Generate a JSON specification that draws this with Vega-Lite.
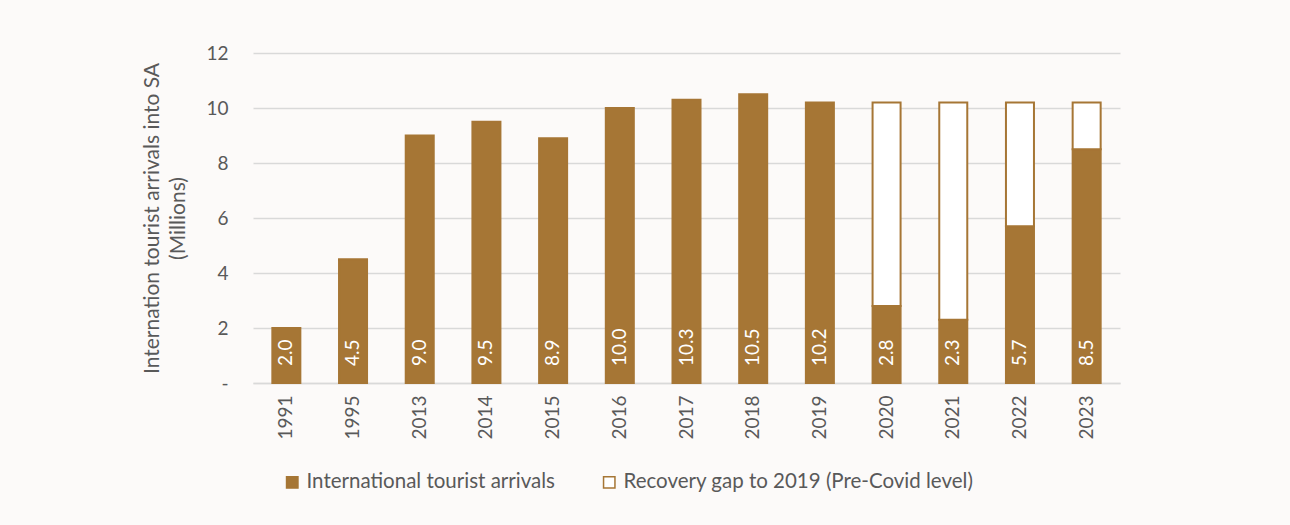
{
  "$schema": "https://vega.github.io/schema/vega-lite/v6.json",
  "width": 867,
  "height": 330,
  "autosize": {"type": "none"},
  "padding": {"left": 253, "top": 53, "right": 170, "bottom": 142},
  "background": "#FCFAF9",
  "config": {
    "font": "Lato",
    "view": {"stroke": null},
    "axis": {"labelFont": "Lato", "titleFont": "Lato", "labelColor": "#595959", "titleColor": "#595959", "labelFontSize": 19, "titleFontSize": 21, "titleFontWeight": "normal"},
    "legend": {"labelFont": "Lato", "labelFontSize": 20.5, "labelColor": "#595959", "labelLimit": 0}
  },
  "data": {
    "values": [
      {"year": "1991", "series": "International tourist arrivals", "value": 2.0},
      {"year": "1995", "series": "International tourist arrivals", "value": 4.5},
      {"year": "2013", "series": "International tourist arrivals", "value": 9.0},
      {"year": "2014", "series": "International tourist arrivals", "value": 9.5},
      {"year": "2015", "series": "International tourist arrivals", "value": 8.9},
      {"year": "2016", "series": "International tourist arrivals", "value": 10.0},
      {"year": "2017", "series": "International tourist arrivals", "value": 10.3},
      {"year": "2018", "series": "International tourist arrivals", "value": 10.5},
      {"year": "2019", "series": "International tourist arrivals", "value": 10.2},
      {"year": "2020", "series": "International tourist arrivals", "value": 2.8},
      {"year": "2021", "series": "International tourist arrivals", "value": 2.3},
      {"year": "2022", "series": "International tourist arrivals", "value": 5.7},
      {"year": "2023", "series": "International tourist arrivals", "value": 8.5},
      {"year": "2020", "series": "Recovery gap to 2019 (Pre-Covid level)", "value": 7.4},
      {"year": "2021", "series": "Recovery gap to 2019 (Pre-Covid level)", "value": 7.9},
      {"year": "2022", "series": "Recovery gap to 2019 (Pre-Covid level)", "value": 4.5},
      {"year": "2023", "series": "Recovery gap to 2019 (Pre-Covid level)", "value": 1.7}
    ]
  },
  "encoding": {
    "x": {
      "field": "year", "type": "nominal", "sort": null,
      "scale": {"paddingInner": 0.58, "paddingOuter": 0.29},
      "axis": {"title": null, "labelAngle": 270, "labelPadding": 12, "ticks": false, "domainColor": "#D9D9D9", "domainWidth": 1.5, "labelAlign": "right", "labelBaseline": "middle"}
    }
  },
  "layer": [
    {
      "mark": {"type": "bar", "stroke": "#A67635", "strokeWidth": 2},
      "encoding": {
        "y": {
          "field": "value", "type": "quantitative", "stack": "zero",
          "scale": {"domain": [0, 12]},
          "axis": {"title": ["Internation tourist arrivals into SA", "(Millions)"], "titleLineHeight": 26, "values": [0, 2, 4, 6, 8, 10, 12], "labelExpr": "datum.value === 0 ? '-' : datum.label", "domain": false, "ticks": false, "labelPadding": 25, "titlePadding": 17, "gridColor": "#D9D9D9", "gridWidth": 1.5}
        },
        "order": {"field": "series", "sort": "ascending"},
        "color": {
          "field": "series", "type": "nominal",
          "scale": {"domain": ["International tourist arrivals", "Recovery gap to 2019 (Pre-Covid level)"], "range": ["#A67635", "#FFFFFF"]},
          "legend": {"title": null, "orient": "none", "direction": "horizontal", "legendX": 29, "legendY": 419, "symbolType": "square", "symbolSize": 130, "symbolStrokeColor": "#A67635", "symbolStrokeWidth": 1.5, "labelOffset": 4, "columnPadding": 44}
        }
      }
    },
    {
      "transform": [{"filter": "datum.series === 'International tourist arrivals'"}],
      "mark": {"type": "text", "angle": 270, "align": "left", "baseline": "middle", "color": "white", "fontSize": 19, "dx": 17, "font": "Lato"},
      "encoding": {
        "y": {"datum": 0, "type": "quantitative"},
        "text": {"field": "value", "type": "quantitative", "format": ".1f"}
      }
    }
  ]
}
